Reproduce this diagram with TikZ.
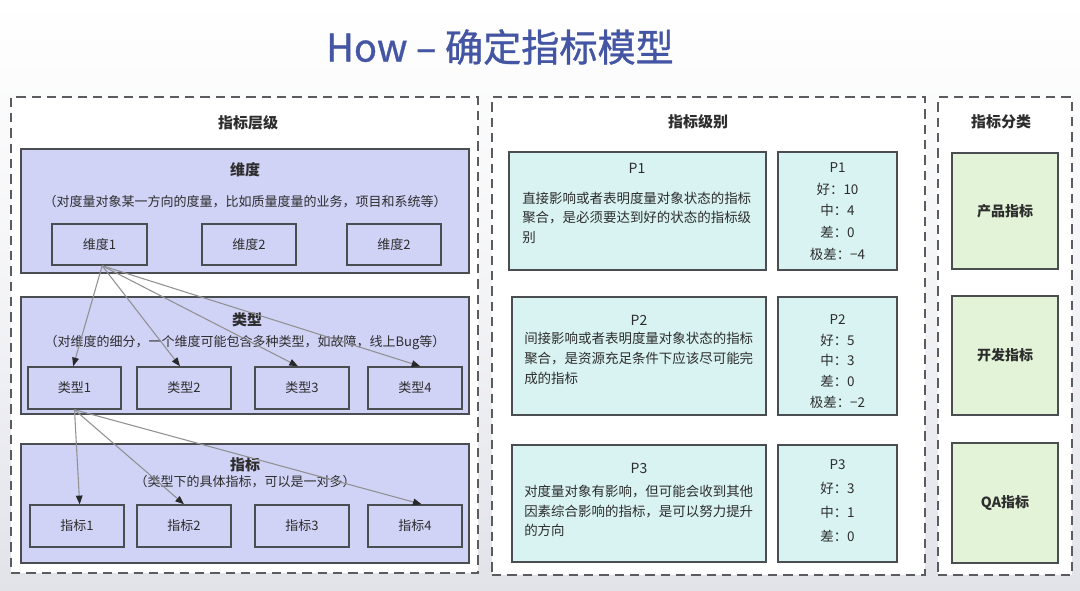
\documentclass[tikz,border=0pt]{standalone}
\usepackage{fontspec}
\setmainfont{Noto Sans CJK SC}
\newfontfamily\titlefont{Noto Sans CJK SC}[FakeBold=0.9]
\usetikzlibrary{arrows.meta,fit}
\definecolor{lav}{RGB}{208,210,246}
\definecolor{cyanbg}{RGB}{216,243,242}
\definecolor{greenbg}{RGB}{226,243,216}
\definecolor{titleblue}{RGB}{67,85,163}
\definecolor{txt}{RGB}{45,45,45}
\definecolor{boxline}{RGB}{75,78,80}
\definecolor{dashline}{RGB}{90,92,95}
\definecolor{arrline}{RGB}{145,145,145}
\definecolor{arrtip}{RGB}{40,40,40}
\definecolor{bgbottom}{RGB}{226,227,233}
\begin{document}
\begin{tikzpicture}[x=0.75pt,y=-0.75pt,
  outer/.style={draw=dashline,fill=white,line width=1.5pt,dash pattern=on 7pt off 4.5pt,inner sep=0pt},
  layer/.style={draw=boxline,fill=lav,line width=1.1pt,inner sep=0pt},
  lab/.style={inner sep=0pt,text=txt,font=\fontsize{9.75pt}{12pt}\selectfont},
  glab/.style={inner sep=0pt,text=txt,font=\fontsize{10.5pt}{13pt}\selectfont\bfseries},
  inbox/.style={draw=boxline,fill=lav,line width=1.1pt,inner sep=0pt,label={[lab]center:#1}},
  pbox/.style={draw=boxline,fill=cyanbg,line width=1.1pt,inner sep=0pt},
  gbox/.style={draw=boxline,fill=greenbg,line width=1.1pt,inner sep=0pt,label={[glab]center:#1}},
  head/.style={text=txt,inner sep=0pt,font=\fontsize{11.25pt}{14pt}\selectfont\bfseries},
  sub/.style={text=txt,inner sep=0pt,font=\fontsize{9.75pt}{12pt}\selectfont},
  desc/.style={text=txt,inner sep=0pt,align=left,anchor=north west},
  vals/.style={text=txt,inner sep=0pt,align=center},
  conn/.style={draw=arrline,line width=0.8pt,-{Triangle[length=6.5pt,width=5pt,color=arrtip]}}
]
\useasboundingbox (0,0) rectangle (1080,591);
\shade[top color=white,bottom color=bgbottom,middle color=white!60!bgbottom] (0,0) rectangle (1080,591);

% title
\node[text=titleblue,inner sep=0pt,font=\titlefont\fontsize{28.6pt}{33pt}\selectfont] (title) at (500,47) {How – 确定指标模型};

% outer dashed boxes
\node[outer,fit={(11,97) (478,573)}] (left) {};
\node[outer,fit={(492,97) (925,575)}] (mid) {};
\node[outer,fit={(938,97) (1072,575)}] (right) {};

\node[head] (lefth) at (248,123) {指标层级};
\node[head] (midh) at (698,122) {指标级别};
\node[head] (righth) at (1001,122) {指标分类};

% layer: dimension
\node[layer,fit={(21,149) (469,273)}] (dimlayer) {};
\node[head] (dimh) at (245,170) {维度};
\node[sub] (dims) at (245,202) {（对度量对象某一方向的度量，比如质量度量的业务，项目和系统等）};
\node[inbox=维度1,fit={(52,224) (147,265)}] (w1) {};
\node[inbox=维度2,fit={(202,224) (296,265)}] (w2) {};
\node[inbox=维度2,fit={(347,224) (441,265)}] (w3) {};

% layer: type
\node[layer,fit={(21,297) (469,414)}] (typelayer) {};
\node[head] (typeh) at (247,320) {类型};
\node[sub] (types) at (245,343) {（对维度的细分，一个维度可能包含多种类型，如故障，线上Bug等）};
\node[inbox=类型1,fit={(28,367) (121,409)}] (l1) {};
\node[inbox=类型2,fit={(137,367) (231,409)}] (l2) {};
\node[inbox=类型3,fit={(255,367) (349,409)}] (l3) {};
\node[inbox=类型4,fit={(368,367) (462,409)}] (l4) {};

% layer: indicator
\node[layer,fit={(21,444) (469,563)}] (indlayer) {};
\node[head] (indh) at (245,465) {指标};
\node[sub] (inds) at (245,482) {（类型下的具体指标，可以是一对多）};
\node[inbox=指标1,fit={(30,505) (124,547)}] (i1) {};
\node[inbox=指标2,fit={(137,505) (231,547)}] (i2) {};
\node[inbox=指标3,fit={(255,505) (349,547)}] (i3) {};
\node[inbox=指标4,fit={(368,505) (462,547)}] (i4) {};

% connectors
\draw[conn] ([xshift=2pt]w1.south) -- ([xshift=-1pt]l1.north);
\draw[conn] ([xshift=2pt]w1.south) -- ([xshift=-3pt]l2.north);
\draw[conn] ([xshift=2pt]w1.south) -- ([xshift=-3pt]l3.north);
\draw[conn] ([xshift=2pt]w1.south) -- ([xshift=4pt]l4.north);
\draw[conn] (l1.south) -- ([xshift=2pt]i1.north);
\draw[conn] (l1.south) -- (i2.north);
\draw[conn] (l1.south) -- ([xshift=5pt]i4.north);

% level boxes
\node[pbox,fit={(509,152) (766,270)}] (p1d) {};
\node[pbox,fit={(778,152) (897,270)}] (p1v) {};
\node[pbox,fit={(512,297) (766,415)}] (p2d) {};
\node[pbox,fit={(778,297) (897,415)}] (p2v) {};
\node[pbox,fit={(512,445) (766,562)}] (p3d) {};
\node[pbox,fit={(778,445) (897,562)}] (p3v) {};

\node[text=txt,inner sep=0pt,font=\fontsize{10.5pt}{13pt}\selectfont] (p1t) at (637,168) {P1};
\node[desc,font=\fontsize{10.1pt}{14.5pt}\selectfont] (p1x) at (522,192) {直接影响或者表明度量对象状态的指标\\聚合，是必须要达到好的状态的指标级\\别};
\node[vals,font=\fontsize{10.1pt}{16.3pt}\selectfont] (p1y) at (837.5,211.5) {P1\\好：10\\中：4\\差：0\\极差：−4};

\node[text=txt,inner sep=0pt,font=\fontsize{10.5pt}{13pt}\selectfont] (p2t) at (639,320) {P2};
\node[desc,font=\fontsize{10.1pt}{15pt}\selectfont] (p2x) at (524,332) {间接影响或者表明度量对象状态的指标\\聚合，是资源充足条件下应该尽可能完\\成的指标};
\node[vals,font=\fontsize{10.1pt}{15.6pt}\selectfont] (p2y) at (837.5,361.5) {P2\\好：5\\中：3\\差：0\\极差：−2};

\node[text=txt,inner sep=0pt,font=\fontsize{10.5pt}{13pt}\selectfont] (p3t) at (639,468) {P3};
\node[desc,font=\fontsize{10.1pt}{14.6pt}\selectfont] (p3x) at (524,485) {对度量对象有影响，但可能会收到其他\\因素综合影响的指标，是可以努力提升\\的方向};
\node[vals,font=\fontsize{10.1pt}{18pt}\selectfont] (p3y) at (837.5,501) {P3\\好：3\\中：1\\差：0};

% category boxes
\node[gbox=产品指标,fit={(952,153) (1058,269)}] (c1) {};
\node[gbox=开发指标,fit={(952,296) (1058,415)}] (c2) {};
\node[gbox=QA指标,fit={(952,443) (1058,563)}] (c3) {};
\end{tikzpicture}
\end{document}
